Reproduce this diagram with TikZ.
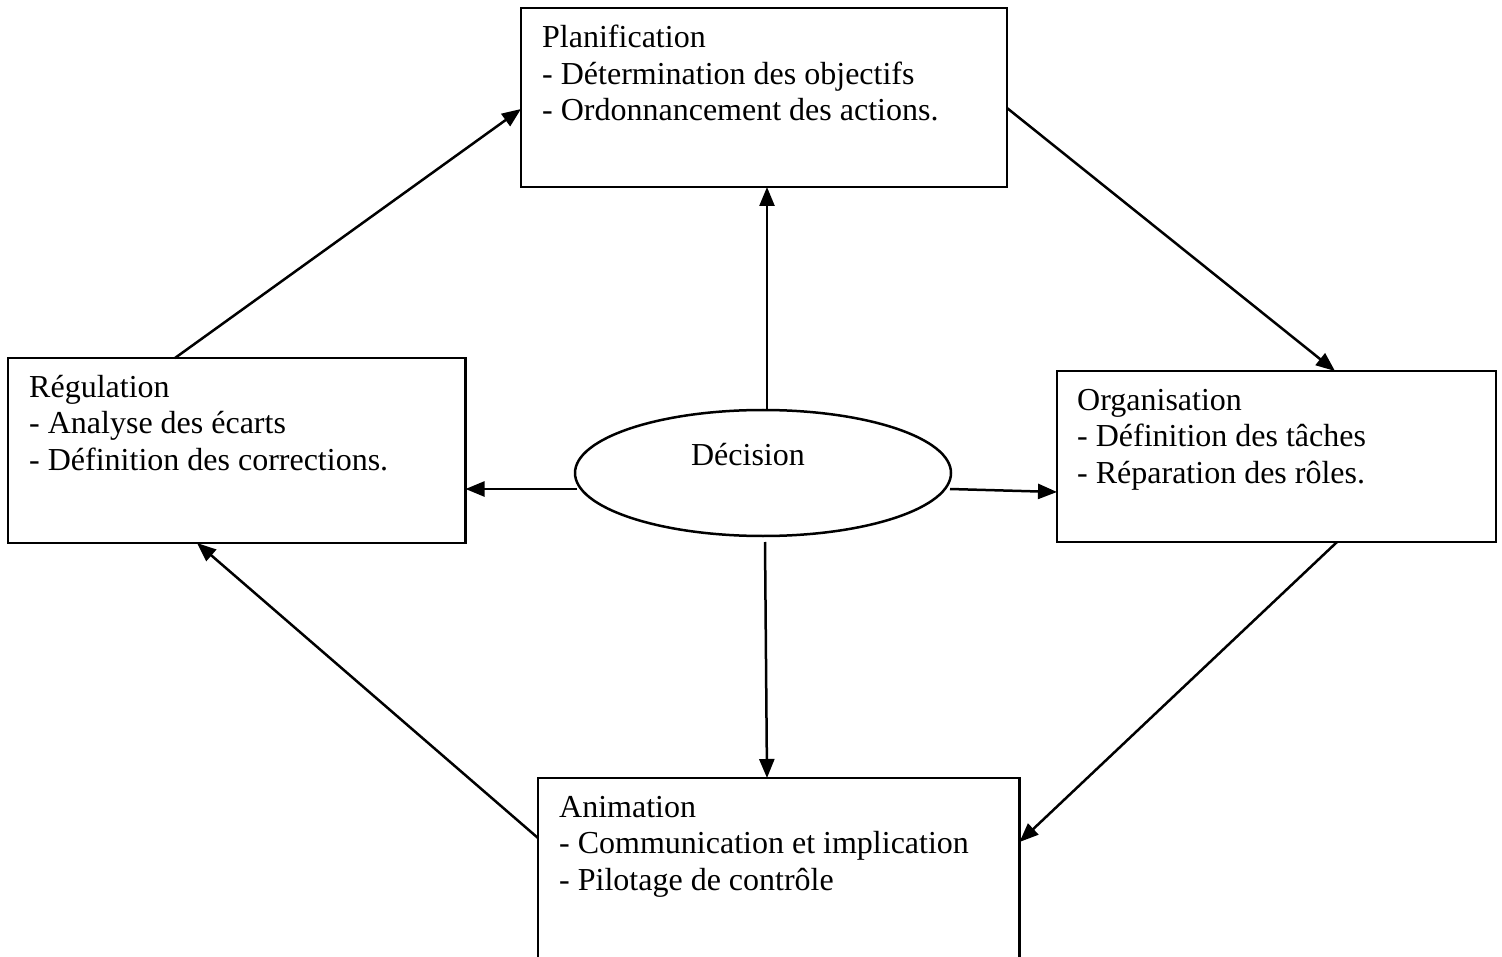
\documentclass[tikz,border=0pt]{standalone}
\usepackage{fontspec}
\setmainfont{Liberation Serif}
\usetikzlibrary{arrows.meta,calc,shapes.geometric}
\begin{document}
\begin{tikzpicture}[x=1pt,y=-1pt,
  box/.style={draw,line width=2.5pt,rectangle,outer sep=0pt,inner sep=0pt,anchor=north west},
  txt/.style={anchor=base west,align=left,inner sep=0pt,font=\fontsize{32}{36.5}\selectfont},
  arr/.style={line width=2.5pt,-{Triangle[length=19pt,width=15pt]}}]
\useasboundingbox (0,0) rectangle (1502,957);
\clip (0,0) rectangle (1502,957);
% boxes
\node[box,minimum width=486pt,minimum height=179pt] (plan) at (521,8) {};
\node[box,minimum width=457.5pt,minimum height=185pt] (reg) at (8,358) {};
\node[box,minimum width=439pt,minimum height=171pt] (org) at (1057,371) {};
\node[box,minimum width=481.5pt,minimum height=220pt] (anim) at (538,778) {};
\node[draw,ellipse,line width=2.5pt,outer sep=0pt,inner sep=0pt,minimum width=376pt,minimum height=126pt] (dec) at (763,473) {};
% texts (base anchor = last line)
\node[txt] (plantxt) at ($(plan.north west)+(21,113)$) {Planification\\- Détermination des objectifs\\- Ordonnancement des actions.};
\node[txt] (regtxt) at ($(reg.north west)+(21,112)$) {Régulation\\- Analyse des écarts\\- Définition des corrections.};
\node[txt] (orgtxt) at ($(org.north west)+(20,112)$) {Organisation\\- Définition des tâches\\- Réparation des rôles.};
\node[txt] (animtxt) at ($(anim.north west)+(21,112)$) {Animation\\- Communication et implication\\- Pilotage de contrôle};
\node[txt,anchor=base] (dectxt) at ($(dec.center)+(-15,-8)$) {Décision};
% cycle arrows
\draw[arr] ($(reg.north west)+(167,0)$) -- ($(plan.north west)+(0,101)$);
\draw[arr] ($(plan.north east)+(0,100)$) -- ($(org.north west)+(278,0)$);
\draw[arr] ($(org.south west)+(280,0)$) -- ($(anim.north east)+(0,64)$);
\draw[arr] ($(anim.north west)+(0,60)$) -- ($(reg.south west)+(189,0)$);
% decision arrows
\draw[arr] ($(dec.north)+(4,0)$) -- ($(plan.south)+(3,0)$);
\draw[arr] ($(dec.west)+(2,16)$) -- ($(reg.north east)+(0,131)$);
\draw[arr] ($(dec.east)+(-1,16)$) -- ($(org.north west)+(0,121)$);
\draw[arr] ($(dec.south)+(2,6)$) -- ($(anim.north west)+(229,0)$);
\end{tikzpicture}
\end{document}
